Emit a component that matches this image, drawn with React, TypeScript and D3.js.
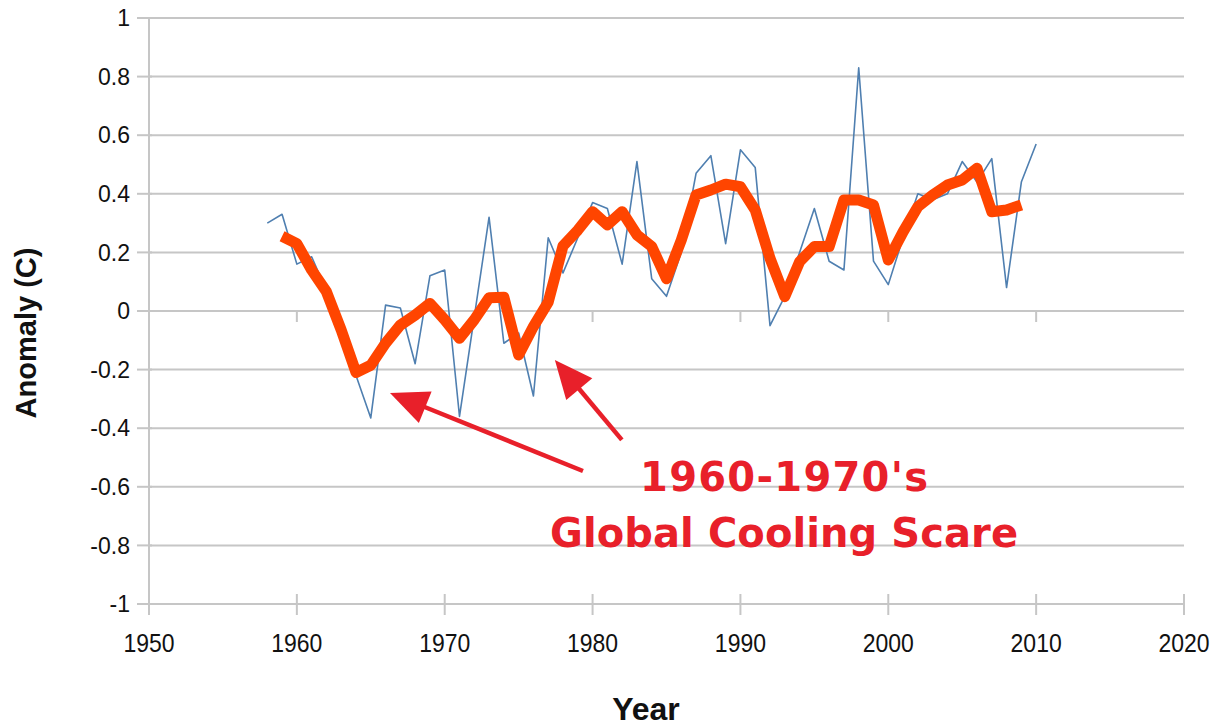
import React from "react";
import * as d3 from "d3";

const rawYears: number[] = d3.range(1958, 2011);
const rawValues: number[] = [
  0.30, 0.33, 0.16, 0.185, 0.07, -0.04, -0.22, -0.365, 0.02, 0.01,
  -0.18, 0.12, 0.14, -0.36, -0.02, 0.32, -0.11, -0.075, -0.29, 0.25,
  0.13, 0.25, 0.37, 0.35, 0.16, 0.51, 0.11, 0.05, 0.2, 0.47,
  0.53, 0.23, 0.55, 0.49, -0.05, 0.05, 0.2, 0.35, 0.17, 0.14,
  0.83, 0.17, 0.09, 0.25, 0.40, 0.38, 0.40, 0.51, 0.44, 0.52,
  0.08, 0.44, 0.57,
];
const smoothYears: number[] = d3.range(1959, 2010);
const smoothValues: number[] = [
  0.255, 0.23, 0.14, 0.066, -0.065, -0.21, -0.185, -0.11, -0.048, -0.014,
  0.026, -0.03, -0.093, -0.03, 0.045, 0.047, -0.15, -0.053, 0.03, 0.222,
  0.276, 0.339, 0.294, 0.339, 0.26, 0.22, 0.11, 0.242, 0.396, 0.413,
  0.433, 0.424, 0.345, 0.18, 0.049, 0.168, 0.22, 0.22, 0.379, 0.379,
  0.362, 0.174, 0.27, 0.356, 0.396, 0.43, 0.447, 0.487, 0.339, 0.345,
  0.362,
];
const xTicks: number[] = [1950, 1960, 1970, 1980, 1990, 2000, 2010, 2020];
const yTicks: number[] = [-1, -0.8, -0.6, -0.4, -0.2, 0, 0.2, 0.4, 0.6, 0.8, 1];
const yTickLabels: string[] = ["-1", "-0.8", "-0.6", "-0.4", "-0.2", "0", "0.2", "0.4", "0.6", "0.8", "1"];
const annotationLines: string[] = ["1960-1970's", "Global Cooling Scare"];
// arrows in data coordinates: [tailYear, tailValue, tipYear, tipValue]
const arrows: number[][] = [
  [1979.35, -0.546, 1966.3, -0.28],
  [1981.98, -0.44, 1977.45, -0.167],
];

const W = 1221;
const H = 727;
const x = d3.scaleLinear().domain([1950, 2020]).range([149, 1184]);
const y = d3.scaleLinear().domain([-1, 1]).range([604, 18]);

const GRID = "#c6c6c6";
const RED = "#e8202a";
const FONT = "Liberation Sans, Arial, sans-serif";

function Arrow({ a }: { a: number[] }) {
  const x1 = x(a[0]), y1 = y(a[1]), x2 = x(a[2]), y2 = y(a[3]);
  const ang = Math.atan2(y2 - y1, x2 - x1);
  const hl = 38, hw = 17;
  const bx = x2 - hl * Math.cos(ang), by = y2 - hl * Math.sin(ang);
  const px = -Math.sin(ang), py = Math.cos(ang);
  const pts = [
    [x2, y2],
    [bx + hw * px, by + hw * py],
    [bx - hw * px, by - hw * py],
  ];
  return (
    <g>
      <line x1={x1} y1={y1} x2={bx + 4 * Math.cos(ang)} y2={by + 4 * Math.sin(ang)} stroke={RED} strokeWidth={4.5} />
      <polygon points={pts.map((p) => p.join(",")).join(" ")} fill={RED} />
    </g>
  );
}

export default function App() {
  const rawLine = d3
    .line<number>()
    .x((_, i) => x(rawYears[i]))
    .y((d) => y(d));
  const smoothLine = d3
    .line<number>()
    .x((_, i) => x(smoothYears[i]))
    .y((d) => y(d));
  const cx = x(1992.95);
  return (
    <div style={{ position: "fixed", left: 0, top: 0 }}>
      <svg width={W} height={H} style={{ display: "block", background: "#fff" }}>
        {/* grid */}
        {yTicks.map((t, i) => (
          <g key={"y" + t}>
            <line x1={x(1950)} x2={x(2020)} y1={y(t)} y2={y(t)} stroke={GRID} strokeWidth={2} />
            <line x1={x(1950) - 12} x2={x(1950) + 3} y1={y(t)} y2={y(t)} stroke={GRID} strokeWidth={2} />
            <text
              x={130}
              y={y(t)}
              dy="0.36em"
              textAnchor="end"
              fontFamily={FONT}
              fontSize={23}
              fill="#111"
            >
              {yTickLabels[i]}
            </text>
          </g>
        ))}
        {/* y axis */}
        <line x1={x(1950)} x2={x(1950)} y1={y(1)} y2={y(-1)} stroke={GRID} strokeWidth={2} />
        {/* x axis ticks */}
        {xTicks.map((t) => (
          <g key={"x" + t}>
            <line x1={x(t)} x2={x(t)} y1={y(-1) - 10} y2={y(-1) + 11} stroke={GRID} strokeWidth={2} />
            {t > 1950 && t < 2020 && (
              <line x1={x(t)} x2={x(t)} y1={y(0)} y2={y(0) + 11} stroke={GRID} strokeWidth={2} />
            )}
            <text
              x={x(t)}
              y={652}
              textAnchor="middle"
              fontFamily={FONT}
              fontSize={23}
              fill="#111"
              transform={`translate(${x(t)},652) scale(1,1.15) translate(${-x(t)},-652)`}
            >
              {t}
            </text>
          </g>
        ))}
        {/* axis titles */}
        <text x={646} y={720} textAnchor="middle" fontFamily={FONT} fontWeight="bold" fontSize={32} fill="#111">
          Year
        </text>
        <text
          transform={`translate(36,333) rotate(-90)`}
          textAnchor="middle"
          fontFamily={FONT}
          fontWeight="bold"
          fontSize={29}
          fill="#111"
        >
          Anomaly (C)
        </text>
        {/* data */}
        <path d={rawLine(rawValues) || ""} fill="none" stroke="#4f7fb0" strokeWidth={1.6} strokeLinejoin="round" />
        <path
          d={smoothLine(smoothValues) || ""}
          fill="none"
          stroke="#ff4500"
          strokeWidth={11}
          strokeLinejoin="round"
          strokeLinecap="butt"
        />
        {/* annotation */}
        {arrows.map((a, i) => (
          <Arrow key={i} a={a} />
        ))}
        <text
          x={cx}
          y={y(-0.615)}
          textAnchor="middle"
          fontFamily="DejaVu Sans, Verdana, sans-serif"
          fontWeight="bold"
          fontSize={40}
          fill={RED}
          textLength={288}
          lengthAdjust="spacing"
        >
          {annotationLines[0]}
        </text>
        <text
          x={cx}
          y={y(-0.804)}
          textAnchor="middle"
          fontFamily="DejaVu Sans, Verdana, sans-serif"
          fontWeight="bold"
          fontSize={40}
          fill={RED}
          textLength={468}
          lengthAdjust="spacing"
        >
          {annotationLines[1]}
        </text>
      </svg>
    </div>
  );
}
